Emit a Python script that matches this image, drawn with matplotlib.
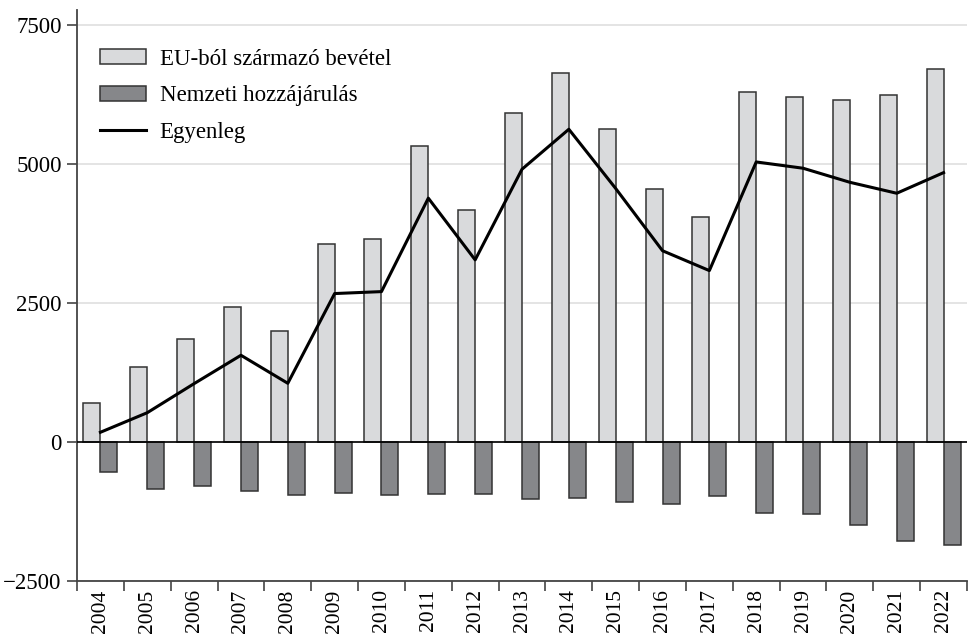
import matplotlib
matplotlib.use('Agg')
import matplotlib.pyplot as plt
import numpy as np

years = ['2004', '2005', '2006', '2007', '2008', '2009', '2010', '2011', '2012', '2013',
         '2014', '2015', '2016', '2017', '2018', '2019', '2020', '2021', '2022']
eu_income = [707, 1355, 1848, 2430, 2004, 3570, 3650, 5330, 4176, 5913,
             6633, 5636, 4554, 4055, 6302, 6212, 6153, 6248, 6705]
contribution = [-546, -840, -792, -876, -960, -918, -960, -942, -930, -1020,
                -1008, -1080, -1122, -978, -1284, -1302, -1488, -1782, -1848]
balance = [175, 527, 1050, 1560, 1056, 2670, 2705, 4386, 3276, 4906,
           5625, 4560, 3440, 3083, 5037, 4924, 4671, 4474, 4845]

plt.rcParams['font.family'] = ['Liberation Serif', 'DejaVu Serif']

fig = plt.figure(figsize=(9.74, 6.41), dpi=100)
ax = fig.add_axes([77 / 974, 60 / 641, 890 / 974, 571 / 641])

x = np.arange(len(years))
w = 0.363

b1 = ax.bar(x - w / 2, eu_income, width=w, color='#d9dadc', edgecolor='#333333',
            linewidth=1.1, label='EU-ból származó bevétel', zorder=3)
b2 = ax.bar(x + w / 2, contribution, width=w, color='#86878a', edgecolor='#333333',
            linewidth=1.1, label='Nemzeti hozzájárulás', zorder=3)
l1, = ax.plot(x, balance, color='black', linewidth=2.2, label='Egyenleg', zorder=4)

ax.axhline(0, color='black', linewidth=1.2, zorder=5)

ax.set_xlim(-0.5, len(years) - 0.5)
ax.set_ylim(-2500, 7770)
ax.set_yticks([-2500, 0, 2500, 5000, 7500])
ax.set_yticklabels(['\u22122500', '0', '2500', '5000', '7500'], fontsize=16.5)
ax.yaxis.grid(True, color='#e2e2e2', linewidth=1.3, zorder=0)
ax.set_axisbelow(True)

ax.set_xticks(x)
ax.set_xticklabels(years, rotation=90, fontsize=15.5)
ax.tick_params(axis='x', which='major', length=0, pad=6)
ax.set_xticks(np.arange(len(years) + 1) - 0.5, minor=True)
ax.tick_params(axis='x', which='minor', length=7, width=1.2, color='#444444')
ax.tick_params(axis='y', length=7, width=1.2, color='#444444', pad=4)

for s in ['top', 'right']:
    ax.spines[s].set_visible(False)
for s in ['left', 'bottom']:
    ax.spines[s].set_color('#444444')
    ax.spines[s].set_linewidth(1.3)

ax.legend(handles=[b1, b2, l1], loc='upper left', bbox_to_anchor=(0.026, 0.932),
          frameon=False, fontsize=16.5, handlelength=2.0, handleheight=0.61,
          handletextpad=0.6, labelspacing=0.68, borderaxespad=0, borderpad=0)

fig.savefig('out.png', dpi=100)
